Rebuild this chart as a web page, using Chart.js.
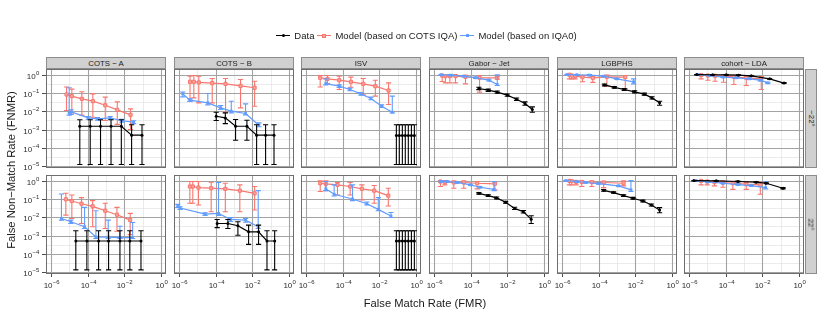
<!DOCTYPE html>
<html>
<head>
<meta charset="utf-8">
<script src="https://cdn.jsdelivr.net/npm/chart.js@4.4.0/dist/chart.umd.min.js"></script>
<style>
  html,body{margin:0;padding:0;background:#fff;}
  body{width:830px;height:312px;overflow:hidden;position:relative;font-family:"Liberation Sans",Arial,Helvetica,sans-serif;}
  canvas{position:absolute;left:0;top:0;}
  .strip{position:absolute;background:#d0d0d0;border:1px solid #8c8c8c;box-sizing:border-box;color:#1a1a1a;font-size:7.8px;display:flex;align-items:center;justify-content:center;white-space:nowrap;z-index:5;}
  .rstrip span{display:inline-block;transform:rotate(90deg);}
  #legend{position:absolute;left:0;top:30px;width:856px;display:flex;justify-content:center;align-items:center;font-size:9.5px;color:#1a1a1a;z-index:5;}
  .item{display:flex;align-items:center;margin-right:3px;}
  .key{position:relative;width:14px;height:9px;margin-right:4px;}
  .key .ln{position:absolute;left:0;right:0;top:4px;height:1px;}
  .key .mk{position:absolute;}
  .title{position:absolute;font-size:11.2px;color:#1a1a1a;white-space:nowrap;z-index:5;}
</style>
</head>
<body>
<div id="legend"></div>
<script>
// ---------------- categories / labels ----------------
const algorithms = ["COTS − A", "COTS − B", "ISV", "Gabor − Jet", "LGBPHS", "cohort − LDA"];
const angles = ["−22°", "22°"];
const seriesNames = ["Data", "Model (based on COTS IQA)", "Model (based on IQA0)"];
const seriesColors = ["#000000", "#F8766D", "#619CFF"];
const xTickValues = [1e-6, 1e-4, 1e-2, 1];
const yTickValues = [1, 1e-1, 1e-2, 1e-3, 1e-4, 1e-5];
const xTitle = "False Match Rate (FMR)";
const yTitle = "False Non−Match Rate (FNMR)";

// ---------------- data: rows are [FMR, FNMR, lower, upper] ----------------
// angle -22°
const cotsA_m22_data = [[3.8e-5,1.5e-3,1.23e-5,3.4e-3],[1.4e-4,1.5e-3,1.23e-5,3.4e-3],[5.1e-4,1.5e-3,1.23e-5,3.4e-3],[1.9e-3,1.5e-3,1.23e-5,3.4e-3],[6.9e-3,1.5e-3,1.23e-5,3.4e-3],[2.5e-2,4.9e-4,1.23e-5,1.8e-3],[9.2e-2,4.9e-4,1.23e-5,1.8e-3]];
const cotsA_m22_cots = [[7.2e-6,0.081,0.0109,0.21],[1.4e-5,0.066,0.0081,0.16],[4.9e-5,0.047,0.0061,0.114],[1.95e-4,0.035,0.0047,0.088],[9.2e-4,0.021,0.0031,0.058],[4.15e-3,0.0118,0.0019,0.032],[2.2e-2,0.0063,0.001,0.0134]];
const cotsA_m22_iqa0 = [[1.0e-5,0.0081,0.0061,0.19],[1.3e-5,0.0092,0.0066,0.012],[1.09e-4,0.0043,0.0036,0.0051],[3.5e-4,0.0038,0.0032,0.0045],[1.7e-3,0.0043,0.0036,0.0051],[7.5e-3,0.0030,0.0025,0.0036],[3.2e-2,0.0025,0.0021,0.003]];

const cotsB_m22_data = [[1.09e-4,5.3e-3,3.1e-3,8.8e-3],[3.4e-4,4.3e-3,2.1e-3,8.1e-3],[1.23e-3,1.5e-3,2.6e-4,3.5e-3],[5.1e-3,1.5e-3,2.6e-4,3.2e-3],[1.72e-2,4.9e-4,1.23e-5,1.8e-3],[5.3e-2,4.9e-4,1.23e-5,1.8e-3],[0.152,4.9e-4,1.23e-5,1.8e-3]];
const cotsB_m22_cots = [[4.1e-6,0.40,0.035,0.81],[6.6e-6,0.40,0.053,0.88],[1.23e-5,0.37,0.0285,0.81],[6.6e-5,0.34,0.0285,0.60],[3.5e-4,0.31,0.0088,0.60],[2.3e-3,0.24,0.0152,0.53],[1.34e-2,0.19,0.0187,0.43]];
const cotsB_m22_iqa0 = [[1.65e-6,0.088,0.06,0.11],[4.1e-6,0.040,0.034,0.047],[3.8e-5,0.0285,0.022,0.092],[1.9e-4,0.0152,0.0123,0.0205],[7.2e-4,0.010,0.0081,0.035],[4.3e-3,0.0075,0.0063,0.025],[2.3e-2,0.0017,0.0014,0.0023]];

const isv_m22_data = [[0.085,4.7e-4,1.23e-5,1.8e-3],[0.123,4.7e-4,1.23e-5,1.8e-3],[0.18,4.7e-4,1.23e-5,1.8e-3],[0.26,4.7e-4,1.23e-5,1.8e-3],[0.38,4.7e-4,1.23e-5,1.8e-3],[0.56,4.7e-4,1.23e-5,1.8e-3],[0.81,4.7e-4,1.23e-5,1.8e-3]];
const isv_m22_cots = [[6.1e-6,0.66,0.21,0.88],[1.52e-5,0.58,0.32,0.88],[6.6e-5,0.49,0.152,0.81],[2.85e-4,0.40,0.20,0.72],[1.34e-3,0.31,0.078,0.60],[6.1e-3,0.23,0.066,0.49],[3.2e-2,0.134,0.023,0.35]];
const isv_m22_iqa0 = [[1.23e-5,0.32,0.27,0.58],[6.6e-5,0.23,0.195,0.27],[2.5e-4,0.152,0.13,0.18],[1.0e-3,0.088,0.075,0.104],[3.5e-3,0.049,0.042,0.058],[1.34e-2,0.0187,0.016,0.022],[5.1e-2,0.0088,0.0081,0.066]];

const gabor_m22_data = [[2.85e-4,0.172,0.15,0.2],[9.2e-4,0.14,0.12,0.16],[2.85e-3,0.109,0.095,0.125],[1.0e-2,0.075,0.065,0.086],[3.2e-2,0.045,0.039,0.052],[9.2e-2,0.026,0.021,0.032],[0.23,0.0123,0.0088,0.0172]];
const gabor_m22_cots = [[2.85e-6,0.88,0.415,0.97],[4.3e-6,0.81,0.35,0.95],[7.5e-6,0.81,0.35,0.95],[1.52e-5,0.81,0.35,0.95],[5.3e-5,0.75,0.31,0.9],[3.1e-4,0.66,0.109,0.85],[2.85e-3,0.66,0.55,0.78]];
const gabor_m22_iqa0 = [[2.5e-6,0.97,0.9,1.0],[8.1e-6,0.92,0.85,0.99],[4.3e-5,0.81,0.75,0.88],[1.9e-4,0.66,0.6,0.72],[1.0e-3,0.49,0.44,0.55],[2.85e-3,0.285,0.25,0.96]];

const lgbphs_m22_data = [[2.1e-4,0.27,0.24,0.3],[7.2e-4,0.20,0.18,0.22],[2.5e-3,0.152,0.135,0.17],[9.2e-3,0.114,0.1,0.13],[3.1e-2,0.085,0.075,0.096],[8.1e-2,0.053,0.046,0.061],[0.21,0.0285,0.021,0.035]];
const lgbphs_m22_cots = [[2.6e-6,0.97,0.58,1.0],[3.5e-6,0.88,0.58,0.97],[5.3e-6,0.81,0.58,0.92],[1.34e-5,0.72,0.40,0.85],[4.9e-5,0.66,0.37,0.8],[2.85e-4,0.75,0.23,0.92],[2.85e-3,0.72,0.165,0.88]];
const lgbphs_m22_iqa0 = [[1.9e-6,0.99,0.93,1.0],[6.6e-6,0.97,0.9,1.0],[3.2e-5,0.92,0.86,0.98],[1.9e-4,0.81,0.75,0.87],[1.0e-3,0.58,0.53,0.63],[8.1e-3,0.40,0.31,0.58]];

const cohort_m22_data = [[2.7e-6,0.99,0.95,1.0],[2.0e-5,0.97,0.93,1.0],[1.09e-4,0.96,0.92,0.99],[5.1e-4,0.92,0.88,0.96],[2.5e-3,0.85,0.81,0.89],[2.5e-2,0.58,0.55,0.61],[0.152,0.34,0.32,0.36]];
const cohort_m22_cots = [[4.7e-6,0.92,0.58,0.98],[1.09e-5,0.88,0.49,0.96],[2.7e-5,0.85,0.43,0.94],[7.8e-5,0.81,0.38,0.92],[2.85e-4,0.75,0.285,0.88],[1.34e-3,0.66,0.25,0.82],[8.8e-3,0.58,0.152,0.78]];
const cohort_m22_iqa0 = [[3.1e-6,0.99,0.95,1.0],[1.34e-5,0.88,0.84,0.92],[7.2e-5,0.72,0.68,0.76],[3.8e-4,0.66,0.62,0.7],[2.0e-3,0.58,0.54,0.62],[7.8e-3,0.49,0.45,0.53],[2.0e-2,0.35,0.32,0.38]];

// angle 22°
const cotsA_p22_data = [[2.3e-5,5.0e-4,1.34e-5,1.8e-3],[9.2e-5,5.0e-4,1.34e-5,1.8e-3],[4.0e-4,5.0e-4,1.34e-5,1.8e-3],[1.4e-3,5.0e-4,1.34e-5,1.8e-3],[5.8e-3,5.0e-4,1.34e-5,1.8e-3],[2.0e-2,5.0e-4,1.34e-5,1.8e-3],[8.1e-2,5.0e-4,1.34e-5,1.8e-3]];
const cotsA_p22_cots = [[6.6e-6,0.094,0.013,0.20],[1.4e-5,0.076,0.0085,0.163],[4.7e-5,0.054,0.0045,0.116],[1.9e-4,0.039,0.003,0.080],[9.2e-4,0.0225,0.0024,0.057],[4.0e-3,0.0136,0.0017,0.034],[2.1e-2,0.0069,0.00112,0.016]];
const cotsA_p22_iqa0 = [[3.8e-6,0.0085,0.0069,0.185],[1.23e-5,0.0056,0.0045,0.0069],[6.9e-5,0.003,0.0024,0.034],[2.85e-4,8.4e-4,6.8e-4,0.0225],[1.34e-3,8.1e-4,6.8e-4,0.0069],[5.8e-3,7.7e-4,6.8e-4,0.0032],[2.85e-2,7.7e-4,6.8e-4,0.0051]];

const cotsB_p22_data = [[1.23e-4,4.5e-3,2.7e-3,7.5e-3],[4.7e-4,4.5e-3,2.4e-3,7.5e-3],[1.65e-3,3.4e-3,1.03e-3,5.6e-3],[6.3e-3,1.58e-3,3.3e-4,3.7e-3],[2.2e-2,1.58e-3,3.3e-4,3.7e-3],[6.3e-2,5.0e-4,1.34e-5,1.8e-3],[0.165,5.0e-4,1.34e-5,1.8e-3]];
const cotsB_p22_cots = [[4.0e-6,0.47,0.057,0.88],[5.8e-6,0.47,0.057,0.88],[1.18e-5,0.41,0.046,0.88],[5.8e-5,0.38,0.0198,0.81],[3.4e-4,0.35,0.0198,0.71],[2.1e-3,0.28,0.0198,0.58],[1.34e-2,0.20,0.0244,0.47]];
const cotsB_p22_iqa0 = [[8.8e-7,0.041,0.034,0.05],[1.18e-6,0.0315,0.0266,0.037],[2.7e-5,0.0147,0.0125,0.0175],[1.46e-4,0.016,0.0125,0.78],[6.6e-4,0.0075,0.0058,0.0096],[4.3e-3,0.0069,0.0053,0.0085],[2.1e-2,0.003,0.0024,0.28]];

const isv_p22_data = [[0.085,5.0e-4,1.34e-5,1.8e-3],[0.123,5.0e-4,1.34e-5,1.8e-3],[0.18,5.0e-4,1.34e-5,1.8e-3],[0.26,5.0e-4,1.34e-5,1.8e-3],[0.38,5.0e-4,1.34e-5,1.8e-3],[0.56,5.0e-4,1.34e-5,1.8e-3],[0.81,5.0e-4,1.34e-5,1.8e-3]];
const isv_p22_cots = [[6.1e-6,0.71,0.25,0.96],[1.23e-5,0.66,0.28,0.96],[5.3e-5,0.58,0.163,0.78],[2.6e-4,0.47,0.163,0.78],[1.13e-3,0.35,0.087,0.58],[5.3e-3,0.28,0.057,0.53],[3.1e-2,0.15,0.041,0.38]];
const isv_p22_iqa0 = [[1.23e-5,0.35,0.28,0.88],[3.5e-5,0.177,0.144,0.58],[3.5e-4,0.098,0.08,0.58],[2.1e-3,0.054,0.046,0.067],[8.8e-3,0.0266,0.0225,0.116],[4.3e-2,0.0115,0.0096,0.018]];

const gabor_p22_data = [[2.85e-4,0.20,0.18,0.22],[9.2e-4,0.15,0.135,0.167],[2.6e-3,0.112,0.1,0.125],[8.1e-3,0.065,0.058,0.073],[2.5e-2,0.030,0.026,0.035],[7.5e-2,0.0198,0.017,0.023],[0.20,0.0078,0.0045,0.012]];
const gabor_p22_cots = [[2.3e-6,0.88,0.47,0.97],[4.0e-6,0.81,0.58,0.95],[1.23e-5,0.78,0.38,0.93],[4.3e-5,0.78,0.38,0.93],[2.3e-4,0.71,0.35,0.88],[2.1e-3,0.66,0.31,0.82]];
const gabor_p22_iqa0 = [[2.5e-6,0.88,0.82,0.95],[5.3e-6,0.88,0.82,0.95],[1.87e-5,0.78,0.72,0.84],[1.0e-4,0.58,0.53,0.63],[3.2e-4,0.43,0.39,0.47],[1.9e-3,0.33,0.28,0.88]];

const lgbphs_p22_data = [[1.9e-4,0.29,0.26,0.32],[6.6e-4,0.22,0.2,0.24],[2.3e-3,0.15,0.135,0.167],[7.5e-3,0.107,0.096,0.12],[2.6e-2,0.076,0.068,0.085],[7.5e-2,0.046,0.041,0.052],[0.21,0.0244,0.0175,0.033]];
const lgbphs_p22_cots = [[2.6e-6,0.96,0.58,1.0],[3.5e-6,0.92,0.58,1.0],[6.1e-6,0.84,0.58,0.96],[1.23e-5,0.84,0.47,0.96],[4.3e-5,0.81,0.47,0.93],[1.9e-4,0.78,0.41,0.9],[2.3e-3,0.71,0.51,0.96]];
const lgbphs_p22_iqa0 = [[1.65e-6,0.99,0.93,1.0],[6.6e-6,0.88,0.82,0.94],[2.0e-5,0.78,0.72,0.84],[1.0e-4,0.68,0.63,0.73],[1.23e-3,0.51,0.47,0.55],[5.8e-3,0.31,0.25,0.99]];

const cohort_p22_data = [[1.9e-6,0.99,0.95,1.0],[3.1e-5,0.96,0.92,1.0],[4.7e-4,0.88,0.84,0.92],[4.7e-3,0.81,0.77,0.85],[1.65e-2,0.71,0.67,0.75],[0.134,0.38,0.35,0.41]];
const cohort_p22_cots = [[4.7e-6,0.96,0.58,1.0],[1.0e-5,0.88,0.58,0.98],[2.5e-5,0.81,0.51,0.95],[7.2e-5,0.78,0.43,0.93],[2.5e-4,0.71,0.33,0.88],[1.34e-3,0.63,0.33,0.82],[7.8e-3,0.58,0.177,0.8]];
const cohort_p22_iqa0 = [[2.5e-6,0.99,0.95,1.0],[1.09e-5,0.84,0.8,0.88],[7.2e-5,0.71,0.67,0.75],[4.7e-4,0.60,0.56,0.64],[2.5e-3,0.53,0.49,0.57],[1.52e-2,0.41,0.35,0.88]];

// table built from the arrays above: [row][col] -> [data, cots, iqa0]
const panelTable = [
  [[cotsA_m22_data,cotsA_m22_cots,cotsA_m22_iqa0],[cotsB_m22_data,cotsB_m22_cots,cotsB_m22_iqa0],[isv_m22_data,isv_m22_cots,isv_m22_iqa0],
   [gabor_m22_data,gabor_m22_cots,gabor_m22_iqa0],[lgbphs_m22_data,lgbphs_m22_cots,lgbphs_m22_iqa0],[cohort_m22_data,cohort_m22_cots,cohort_m22_iqa0]],
  [[cotsA_p22_data,cotsA_p22_cots,cotsA_p22_iqa0],[cotsB_p22_data,cotsB_p22_cots,cotsB_p22_iqa0],[isv_p22_data,isv_p22_cots,isv_p22_iqa0],
   [gabor_p22_data,gabor_p22_cots,gabor_p22_iqa0],[lgbphs_p22_data,lgbphs_p22_cots,lgbphs_p22_iqa0],[cohort_p22_data,cohort_p22_cots,cohort_p22_iqa0]]
];

// ---------------- layout ----------------
const W = 830, H = 312;
const PW = 120, PH = 99;
const colLefts = [46, 174, 301, 429, 557, 684];
const rowTops = [69, 175];
const X_MIN = Math.pow(10, -6.26), X_MAX = Math.pow(10, 0.27);
const Y_MIN = Math.pow(10, -5.1), Y_MAX = Math.pow(10, 0.3);

const GRID_MAJOR = "#a3a3a3", GRID_MINOR = "#e3e3e3", BORDER = "#6e6e6e", TICK = "#4d4d4d", LABEL = "#2b2b2b";

function minorsOf(vals){ const s=[...vals].sort((a,b)=>a-b); const out=[]; for(let i=0;i<s.length-1;i++) out.push(Math.sqrt(s[i]*s[i+1])); return out; }
const xMinor = minorsOf(xTickValues);
const yMinor = minorsOf(yTickValues).concat([Math.sqrt(10)*1e-6, Math.sqrt(10)]);

function expText(v){ const e = Math.round(Math.log10(v)); return e < 0 ? "−" + Math.abs(e) : String(e); }

const BASE_FONT = '8px "Liberation Sans", Arial, sans-serif';
const EXP_FONT = '6px "Liberation Sans", Arial, sans-serif';
function drawPow(ctx, v, x, y, align){
  const base = "10", ex = expText(v);
  ctx.font = BASE_FONT;
  const wb = ctx.measureText(base).width;
  ctx.font = EXP_FONT;
  const we = ctx.measureText(ex).width;
  let start;
  if (align === "right") start = x - wb - we; else start = x - (wb + we) / 2;
  ctx.fillStyle = LABEL;
  ctx.textAlign = "left"; ctx.textBaseline = "alphabetic";
  ctx.font = BASE_FONT;
  ctx.fillText(base, start, y);
  ctx.font = EXP_FONT;
  ctx.fillText(ex, start + wb + 0.3, y - 3.3);
}

const facetPlugin = {
  id: "facet",
  beforeDatasetsDraw(chart, args, opts) {
    const { ctx, chartArea: a, scales: { x, y } } = chart;
    ctx.save();
    ctx.fillStyle = "#fff";
    ctx.fillRect(a.left, a.top, a.right - a.left, a.bottom - a.top);
    ctx.beginPath(); ctx.rect(a.left, a.top, a.right - a.left, a.bottom - a.top); ctx.clip();
    ctx.lineWidth = 0.7; ctx.strokeStyle = GRID_MINOR;
    xMinor.forEach(v => { const p = Math.round(x.getPixelForValue(v)) + 0.5; ctx.beginPath(); ctx.moveTo(p, a.top); ctx.lineTo(p, a.bottom); ctx.stroke(); });
    yMinor.forEach(v => { const p = Math.round(y.getPixelForValue(v)) + 0.5; ctx.beginPath(); ctx.moveTo(a.left, p); ctx.lineTo(a.right, p); ctx.stroke(); });
    ctx.lineWidth = 1.1; ctx.strokeStyle = GRID_MAJOR;
    xTickValues.forEach(v => { const p = Math.round(x.getPixelForValue(v)) + 0.5; ctx.beginPath(); ctx.moveTo(p, a.top); ctx.lineTo(p, a.bottom); ctx.stroke(); });
    yTickValues.forEach(v => { const p = Math.round(y.getPixelForValue(v)) + 0.5; ctx.beginPath(); ctx.moveTo(a.left, p); ctx.lineTo(a.right, p); ctx.stroke(); });
    ctx.restore();
  },
  beforeDatasetDraw(chart, args) {
    const ds = chart.data.datasets[args.index];
    if (!ds.errRows) return;
    const { ctx, chartArea: a, scales: { x, y } } = chart;
    ctx.save();
    ctx.beginPath(); ctx.rect(a.left, a.top, a.right - a.left, a.bottom - a.top); ctx.clip();
    ctx.strokeStyle = ds.borderColor; ctx.lineWidth = 1.1;
    ds.errRows.forEach(r => {
      const px = x.getPixelForValue(r[0]);
      const lo = y.getPixelForValue(r[2]), hi = y.getPixelForValue(r[3]);
      ctx.beginPath();
      ctx.moveTo(px, lo); ctx.lineTo(px, hi);
      ctx.moveTo(px - 2.6, lo); ctx.lineTo(px + 2.6, lo);
      ctx.moveTo(px - 2.6, hi); ctx.lineTo(px + 2.6, hi);
      ctx.stroke();
    });
    ctx.restore();
  },
  afterDatasetsDraw(chart, args, opts) {
    const { ctx, chartArea: a, scales: { x, y } } = chart;
    ctx.save();
    ctx.strokeStyle = BORDER; ctx.lineWidth = 1;
    ctx.strokeRect(a.left + 0.5, a.top + 0.5, a.right - a.left - 1, a.bottom - a.top - 1);
    if (opts.col === 0) {
      yTickValues.forEach(v => {
        const p = Math.round(y.getPixelForValue(v)) + 0.5;
        ctx.strokeStyle = TICK; ctx.beginPath(); ctx.moveTo(a.left - 4, p); ctx.lineTo(a.left, p); ctx.stroke();
        drawPow(ctx, v, a.left - 7, p + 3, "right");
      });
    }
    if (opts.row === 1) {
      xTickValues.forEach(v => {
        const p = Math.round(x.getPixelForValue(v)) + 0.5;
        ctx.strokeStyle = TICK; ctx.beginPath(); ctx.moveTo(p, a.bottom); ctx.lineTo(p, a.bottom + 3); ctx.stroke();
        drawPow(ctx, v, p, a.bottom + 13.5, "center");
      });
    }
    ctx.restore();
  }
};

function toPoints(rows){ return rows.map(r => ({ x: r[0], y: r[1] })); }

function makePanel(row, col) {
  const sets = panelTable[row][col];
  const cv = document.createElement("canvas");
  cv.width = W; cv.height = H;
  cv.style.width = W + "px"; cv.style.height = H + "px";
  document.body.appendChild(cv);
  const L = colLefts[col], T = rowTops[row];
  const ds = [
    { label: seriesNames[0], data: toPoints(sets[0]), errRows: sets[0], borderColor: seriesColors[0], backgroundColor: seriesColors[0],
      showLine: true, borderWidth: 1.2, pointStyle: "circle", pointRadius: 1.5, pointBorderWidth: 0 },
    { label: seriesNames[2], data: toPoints(sets[2]), errRows: sets[2], borderColor: seriesColors[2], backgroundColor: seriesColors[2],
      showLine: true, borderWidth: 1.2, pointStyle: "rect", pointRadius: 2, pointBorderWidth: 0 },
    { label: seriesNames[1], data: toPoints(sets[1]), errRows: sets[1], borderColor: seriesColors[1], backgroundColor: "#f9a49e",
      showLine: true, borderWidth: 1.2, pointStyle: "rect", pointRadius: 2.2, pointBorderWidth: 1, pointBorderColor: seriesColors[1] }
  ];
  new Chart(cv, {
    type: "scatter",
    data: { datasets: ds },
    options: {
      responsive: false, animation: false, devicePixelRatio: 1, events: [],
      layout: { padding: { left: L, top: T, right: W - L - PW, bottom: H - T - PH } },
      plugins: { legend: { display: false }, tooltip: { enabled: false }, facet: { row: row, col: col } },
      elements: { line: { tension: 0 } },
      scales: {
        x: { type: "logarithmic", min: X_MIN, max: X_MAX, display: false },
        y: { type: "logarithmic", min: Y_MIN, max: Y_MAX, display: false }
      }
    },
    plugins: [facetPlugin]
  });
}

for (let r = 0; r < 2; r++) for (let c = 0; c < 6; c++) makePanel(r, c);

// strips
algorithms.forEach((name, c) => {
  const d = document.createElement("div");
  d.className = "strip";
  d.style.left = colLefts[c] + "px"; d.style.top = "57px";
  d.style.width = PW + "px"; d.style.height = "12px";
  d.textContent = name;
  document.body.appendChild(d);
});
angles.forEach((name, r) => {
  const d = document.createElement("div");
  d.className = "strip rstrip";
  d.style.left = (colLefts[5] + PW + 1) + "px"; d.style.top = rowTops[r] + "px";
  d.style.width = "12px"; d.style.height = PH + "px";
  const s = document.createElement("span"); s.textContent = name;
  d.appendChild(s);
  document.body.appendChild(d);
});

// axis titles
const xt = document.createElement("div");
xt.className = "title"; xt.textContent = xTitle;
xt.style.left = "0px"; xt.style.width = "850px"; xt.style.textAlign = "center"; xt.style.top = "297px";
document.body.appendChild(xt);
const yt = document.createElement("div");
yt.className = "title"; yt.textContent = yTitle;
yt.style.left = "-89px"; yt.style.top = "164px"; yt.style.width = "200px"; yt.style.textAlign = "center";
yt.style.transform = "rotate(-90deg)";
document.body.appendChild(yt);

// legend
const leg = document.getElementById("legend");
seriesNames.forEach((name, i) => {
  const it = document.createElement("div"); it.className = "item";
  const k = document.createElement("div"); k.className = "key";
  const ln = document.createElement("div"); ln.className = "ln"; ln.style.background = seriesColors[i];
  const mk = document.createElement("div"); mk.className = "mk";
  if (i === 0) { mk.style.cssText = "left:5.5px;top:3px;width:3px;height:3px;border-radius:50%;background:#000;"; }
  else if (i === 1) { mk.style.cssText = "left:5px;top:2.5px;width:4px;height:4px;box-sizing:border-box;border:1px solid " + seriesColors[1] + ";background:#f9a49e;"; }
  else { mk.style.cssText = "left:5.5px;top:3px;width:3px;height:3px;background:" + seriesColors[2] + ";"; }
  k.appendChild(ln); k.appendChild(mk);
  const t = document.createElement("span"); t.textContent = name;
  it.appendChild(k); it.appendChild(t);
  leg.appendChild(it);
});
</script>
</body>
</html>
